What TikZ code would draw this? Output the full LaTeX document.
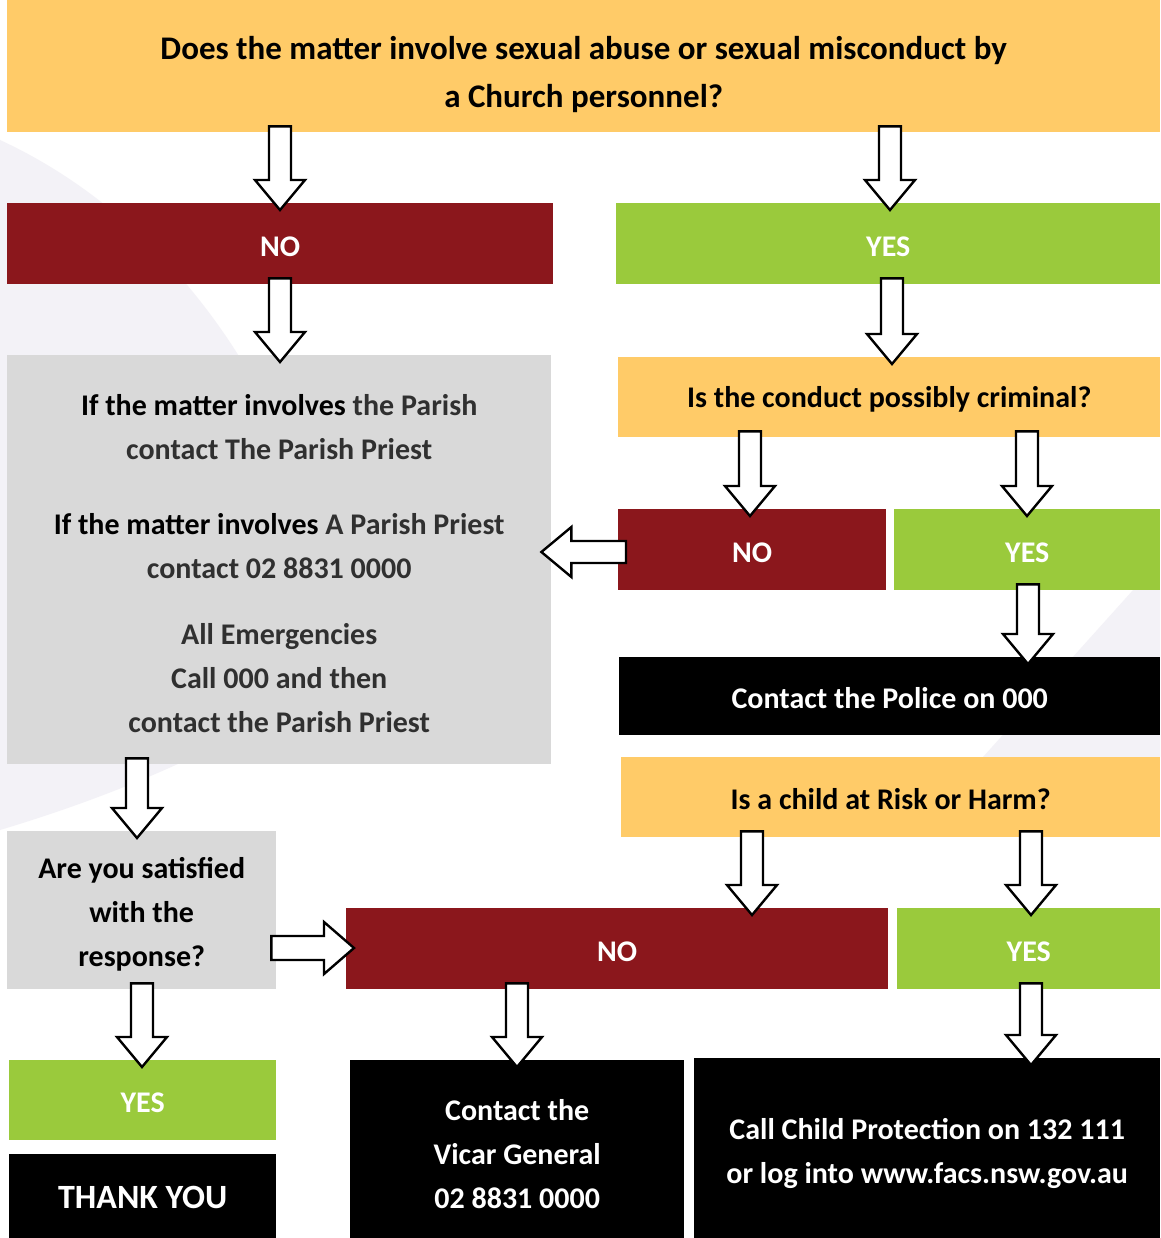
\documentclass[tikz,border=0pt]{standalone}
\usepackage{fontspec}
\setmainfont{Carlito}
\usetikzlibrary{calc}
\definecolor{qyellow}{RGB}{255,203,104}
\definecolor{nored}{RGB}{139,23,28}
\definecolor{yesgreen}{RGB}{154,202,60}
\definecolor{infogrey}{RGB}{217,217,217}
\definecolor{bglav}{RGB}{243,242,247}
\definecolor{softblack}{RGB}{48,48,48}

\newcommand\upstrut[1]{\rule{0pt}{#1}}

\tikzset{
  box/.style={rectangle, inner sep=0pt, anchor=north west, align=center,
    font=\fontsize{30}{44}\selectfont\bfseries},
  onebox/.style={box, execute at begin node={\upstrut{25pt}}},
  qbox/.style={fill=qyellow, text=black},
  nobox/.style={fill=nored, text=white},
  yesbox/.style={fill=yesgreen, text=white},
  greybox/.style={fill=infogrey, text=black},
  blackbox/.style={fill=black, text=white},
  blockarrow/.style={draw=black, fill=white, line width=2.4pt, line join=miter},
}

% vertical block arrow: #1 source node, #2 target node, #3 x (px)
\newcommand\downblk[3]{%
  \draw[blockarrow] let \p1=(#1.south), \p2=(#2.north) in
    ({#3pt-11pt},{\y1+6pt}) -- ({#3pt+11pt},{\y1+6pt})
    -- ({#3pt+11pt},{\y2+23pt}) -- ({#3pt+25pt},{\y2+23pt})
    -- ({#3pt},{\y2-7pt})
    -- ({#3pt-25pt},{\y2+23pt}) -- ({#3pt-11pt},{\y2+23pt}) -- cycle;}
% leftward block arrow: #1 source (right), #2 target (left), #3 y (px)
\newcommand\leftblk[3]{%
  \draw[blockarrow] let \p1=(#1.west), \p2=(#2.east) in
    ({\x1+8pt},{-#3pt+11pt}) -- ({\x1+8pt},{-#3pt-11pt})
    -- ({\x2+20pt},{-#3pt-11pt}) -- ({\x2+20pt},{-#3pt-25pt})
    -- ({\x2-10pt},{-#3pt})
    -- ({\x2+20pt},{-#3pt+25pt}) -- ({\x2+20pt},{-#3pt+11pt}) -- cycle;}
% rightward block arrow: #1 source (left), #2 target (right), #3 y (px)
\newcommand\rightblk[3]{%
  \draw[blockarrow] let \p1=(#1.east), \p2=(#2.west) in
    ({\x1-5pt},{-#3pt+12pt}) -- ({\x1-5pt},{-#3pt-12pt})
    -- ({\x2-22pt},{-#3pt-12pt}) -- ({\x2-22pt},{-#3pt-26pt})
    -- ({\x2+8pt},{-#3pt})
    -- ({\x2-22pt},{-#3pt+26pt}) -- ({\x2-22pt},{-#3pt+12pt}) -- cycle;}

\begin{document}
\begin{tikzpicture}[x=1pt, y=-1pt]
\useasboundingbox (0,0) rectangle (1160,1238);
\fill[white] (0,0) rectangle (1160,1238);
% faint background shapes
\fill[bglav] (0,140) .. controls (130,200) and (240,320) .. (300,480)
  -- (300,700) .. controls (200,760) and (100,800) .. (0,830) -- cycle;
\fill[bglav] (983,757) -- (1160,560) -- (1160,757) -- cycle;

% boxes
\node[box, qbox, minimum width=1153, minimum height=132, font=\fontsize{33}{48}\selectfont\bfseries] (q1) at (7,0)
  {\upstrut{39pt}Does the matter involve sexual abuse or sexual misconduct by\\a Church personnel?};
\node[onebox, nobox, minimum width=546, minimum height=81] (no1) at (7,203) {NO};
\node[onebox, yesbox, minimum width=544, minimum height=81] (yes1) at (616,203) {YES};
\node[box, greybox, minimum width=544, minimum height=409] (info) at (7,355)
  {\upstrut{28pt}If the matter involves \textcolor{softblack}{the Parish}\\
   \textcolor{softblack}{contact The Parish Priest}\\[31pt]
   If the matter involves \textcolor{softblack}{A Parish Priest}\\
   \textcolor{softblack}{contact 02 8831 0000}\\[22pt]
   \textcolor{softblack}{All Emergencies}\\
   \textcolor{softblack}{Call 000 and then}\\
   \textcolor{softblack}{contact the Parish Priest}};
\node[onebox, qbox, minimum width=542, minimum height=80] (q2) at (618,357) {Is the conduct possibly criminal?};
\node[onebox, nobox, minimum width=268, minimum height=81] (no2) at (618,509) {NO};
\node[onebox, yesbox, minimum width=266, minimum height=81] (yes2) at (894,509) {YES};
\node[onebox, blackbox, minimum width=541, minimum height=78] (police) at (619,657) {Contact the Police on 000};
\node[onebox, qbox, minimum width=539, minimum height=80] (q3) at (621,757) {Is a child at Risk or Harm?};
\node[box, greybox, minimum width=269, minimum height=158] (sat) at (7,831)
  {\upstrut{30pt}Are you satisfied\\with the\\response?};
\node[onebox, nobox, minimum width=542, minimum height=81] (no3) at (346,908) {NO};
\node[onebox, yesbox, minimum width=263, minimum height=81] (yes3) at (897,908) {YES};
\node[onebox, yesbox, minimum width=267, minimum height=80] (yes4) at (9,1060) {YES};
\node[onebox, blackbox, minimum width=267, minimum height=84, font=\fontsize{34}{44}\selectfont\bfseries] (thanks) at (9,1154) {THANK YOU};
\node[box, blackbox, minimum width=334, minimum height=178] (vicar) at (350,1060)
  {\upstrut{30pt}Contact the\\Vicar General\\02 8831 0000};
\node[box, blackbox, minimum width=466, minimum height=180] (cp) at (694,1058)
  {\upstrut{32pt}Call Child Protection on 132 111\\or log into www.facs.nsw.gov.au};

% block arrows
\downblk{q1}{no1}{280}
\downblk{q1}{yes1}{890}
\downblk{no1}{info}{280}
\downblk{yes1}{q2}{892}
\downblk{q2}{no2}{750}
\downblk{q2}{yes2}{1027}
\downblk{yes2}{police}{1028}
\downblk{info}{sat}{137}
\downblk{q3}{no3}{752}
\downblk{q3}{yes3}{1031}
\downblk{sat}{yes4}{142}
\downblk{no3}{vicar}{517}
\downblk{yes3}{cp}{1031}
\leftblk{no2}{info}{552}
\rightblk{sat}{no3}{948}
\end{tikzpicture}
\end{document}
